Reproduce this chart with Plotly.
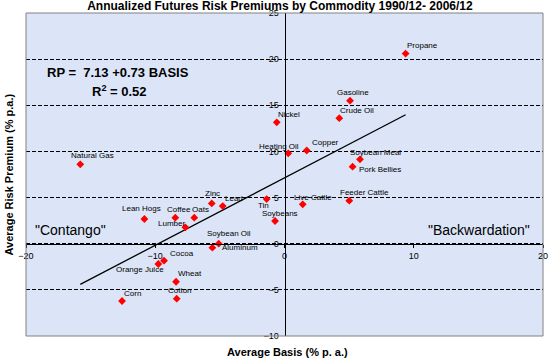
import plotly.graph_objects as go

# ---- data ----
commodities = ["Propane", "Gasoline", "Crude Oil", "Nickel", "Heating Oil", "Copper",
               "Soybean Meal", "Pork Bellies", "Feeder Cattle", "Live Cattle", "Tin",
               "Soybeans", "Natural Gas", "Zinc", "Lead", "Lean Hogs", "Coffee", "Oats",
               "Lumber", "Soybean Oil", "Aluminum", "Cocoa", "Orange Juice", "Wheat",
               "Cotton", "Corn"]
basis = [9.37, 5.07, 4.24, -0.60, 0.29, 1.72, 5.84, 5.27, 5.01, 1.41, -1.38, -0.73,
         -15.8, -5.63, -4.78, -10.84, -8.45, -6.98, -7.67, -5.09, -5.58, -9.32, -9.76,
         -8.39, -8.34, -12.57]
risk_premium = [20.6, 15.5, 13.6, 13.15, 9.79, 10.1, 9.14, 8.35, 4.66, 4.27, 4.84, 2.46,
                8.6, 4.37, 4.08, 2.68, 2.82, 2.82, 1.78, 0.0, -0.43, -1.84, -2.2,
                -4.12, -5.96, -6.21]
INTERCEPT = 7.13
SLOPE = 0.73
R2 = 0.52
x_ticks = [-20, -10, 0, 10, 20]
y_ticks = [-10, -5, 0, 5, 10, 15, 20, 25]

# label offsets in pixels (text left edge relative to marker, text centre above marker)
label_dx = [1, -13, 1, 1, -29, 5, -10, 6, -9, -9, -9, -13,
            -9, -7, 2, -22, -8, -2, -27, -12, 10, 6, -42, 2, -9, 2]
label_dy = [8, 8, 8, 8, 7, 8, 7, -3, 8, 7, -6, 8,
            9, 10, 8, 10, 8, 8, 4, 10, 0, 7, -5, 8, 8, 8]

FONT = "Liberation Sans, Arial, sans-serif"
X_RANGE = [-20, 20]
Y_RANGE = [-10, 25]

fig = go.Figure()

x0, x1 = min(basis), max(basis)
fig.add_trace(go.Scatter(
    x=[x0, x1], y=[INTERCEPT + SLOPE * x0, INTERCEPT + SLOPE * x1],
    mode="lines", line=dict(color="black", width=1.3), hoverinfo="skip",
    showlegend=False))

fig.add_trace(go.Scatter(
    x=basis, y=risk_premium, mode="markers", text=commodities,
    marker=dict(symbol="diamond", size=6, color="#FF0000"),
    showlegend=False))

annotations = []
for name, bx, ry, dx, dy in zip(commodities, basis, risk_premium, label_dx, label_dy):
    annotations.append(dict(
        x=bx, y=ry, xref="x", yref="y", text=name, showarrow=False,
        xanchor="left", yanchor="middle", xshift=dx - 2, yshift=dy,
        font=dict(family=FONT, size=8, color="black")))

annotations += [
    dict(x=0.0368, y=0.817, xref="paper", yref="paper", xanchor="left", yanchor="middle",
         text="<b>RP =  %.2f +%.2f BASIS</b>" % (INTERCEPT, SLOPE), showarrow=False,
         font=dict(family=FONT, size=13, color="black")),
    dict(x=0.1238, y=0.7585, xref="paper", yref="paper", xanchor="left", yanchor="middle",
         text="<b>R<sup>2</sup> = %.2f</b>" % R2, showarrow=False,
         font=dict(family=FONT, size=13, color="black")),
    dict(x=0.0135, y=0.328, xref="paper", yref="paper", xanchor="left", yanchor="middle",
         text='"Contango"', showarrow=False,
         font=dict(family=FONT, size=14, color="black")),
    dict(x=0.9787, y=0.328, xref="paper", yref="paper", xanchor="right", yanchor="middle",
         text='"Backwardation"', showarrow=False,
         font=dict(family=FONT, size=14, color="black")),
    dict(x=0.505, y=0, xref="paper", yref="paper", xanchor="center", yanchor="middle",
         yshift=-16, text="<b>Average Basis (% p. a.)</b>", showarrow=False,
         font=dict(family=FONT, size=11, color="black")),
    dict(x=0, y=0.5, xref="paper", yref="paper", xanchor="center", yanchor="middle",
         xshift=-18, textangle=-90, text="<b>Average Risk Premium (% p.a.)</b>",
         showarrow=False, font=dict(family=FONT, size=11, color="black")),
]

y_zero_frac = (0 - Y_RANGE[0]) / (Y_RANGE[1] - Y_RANGE[0])
x_zero_frac = (0 - X_RANGE[0]) / (X_RANGE[1] - X_RANGE[0])

fig.update_layout(
    width=550, height=364,
    margin=dict(l=26, r=7, t=13, b=28, autoexpand=False),
    paper_bgcolor="white", plot_bgcolor="#DBE5F7",
    font=dict(family=FONT, size=9, color="black"),
    title=dict(text="<b>Annualized Futures Risk Premiums by Commodity 1990/12- 2006/12</b>",
               x=0.509, xanchor="center", xref="container",
               y=1 - 6 / 364, yanchor="middle", yref="container",
               font=dict(family=FONT, size=12, color="black")),
    xaxis=dict(range=X_RANGE, tickvals=x_ticks, showgrid=False, zeroline=False,
               showline=True, linecolor="black", linewidth=1, automargin=False,
               anchor="free", position=y_zero_frac,
               ticks="outside", ticklen=3, tickcolor="black",
               tickfont=dict(family=FONT, size=9, color="black")),
    yaxis=dict(range=Y_RANGE, tickvals=y_ticks, showgrid=True, gridcolor="black",
               gridwidth=1, griddash="4px,2px", zeroline=False, automargin=False,
               showline=True, linecolor="black", linewidth=1,
               anchor="free", position=x_zero_frac, ticks="",
               ticklabelstandoff=4,
               tickfont=dict(family=FONT, size=9, color="black")),
    annotations=annotations,
    shapes=[dict(type="rect", xref="paper", yref="paper", x0=0, y0=0, x1=1, y1=1,
                 line=dict(color="#808080", width=1), fillcolor="rgba(0,0,0,0)")],
    showlegend=False,
)

fig.write_html("out.html", config={"displayModeBar": False},
               post_script="document.body.style.margin='0';document.body.style.padding='0';")
